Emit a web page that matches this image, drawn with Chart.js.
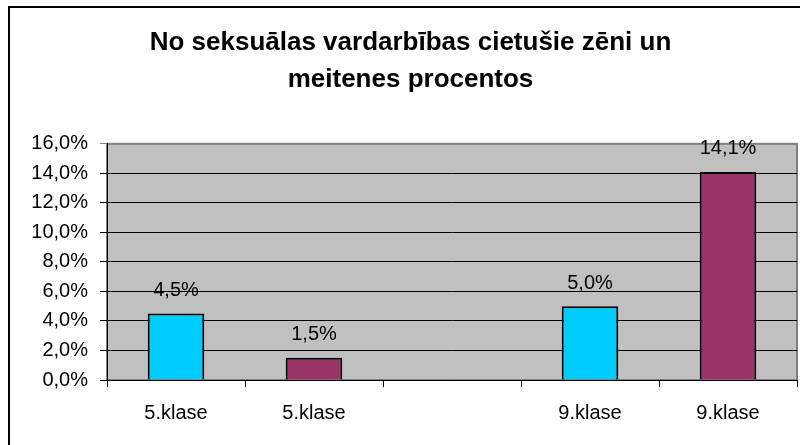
<!DOCTYPE html>
<html>
<head>
<meta charset="utf-8">
<script src="https://cdn.jsdelivr.net/npm/chart.js@4"></script>
<style>
  body { margin: 0; background: #fff; }
  canvas { display: block; }
</style>
</head>
<body>
<canvas id="chart" width="800" height="445"></canvas>
<script>
const titleLines = ["No seksuālas vardarbības cietušie zēni un", "meitenes procentos"];
const categories = ["5.klase", "5.klase", "", "9.klase", "9.klase"];
const values = [4.5, 1.5, null, 5.0, 14.1];
const barColors = ["#00CCFF", "#993366", "#00CCFF", "#00CCFF", "#993366"];
const yTicks = [0, 2, 4, 6, 8, 10, 12, 14, 16];

const FONT = "'Liberation Sans', Arial, sans-serif";
const fmt = v => v.toFixed(1).replace(".", ",") + "%";

// gray plot area, gray frame, and the black outer border
const backdrop = {
  id: "backdrop",
  beforeDraw(chart) {
    const { ctx, chartArea: a } = chart;
    ctx.save();
    ctx.fillStyle = "#fff";
    ctx.fillRect(0, 0, chart.width, chart.height);
    ctx.fillStyle = "#C0C0C0";
    ctx.fillRect(a.left, a.top, a.right - a.left, a.bottom - a.top);
    ctx.strokeStyle = "#808080";
    ctx.lineWidth = 2;
    ctx.strokeRect(a.left, a.top, a.right - a.left, a.bottom - a.top);
    ctx.strokeStyle = "#000";
    ctx.lineWidth = 2;
    ctx.strokeRect(9, 7, chart.width + 20, chart.height + 20);
    ctx.restore();
  }
};

// value labels above the bars
const barLabels = {
  id: "barLabels",
  afterDatasetsDraw(chart) {
    const { ctx } = chart;
    const meta = chart.getDatasetMeta(0);
    ctx.save();
    ctx.font = "20px " + FONT;
    ctx.fillStyle = "#000";
    ctx.textAlign = "center";
    ctx.textBaseline = "middle";
    meta.data.forEach((bar, i) => {
      if (values[i] == null) return;
      ctx.fillText(fmt(values[i]), bar.x, bar.y - 23);
    });
    ctx.restore();
  }
};

new Chart(document.getElementById("chart"), {
  type: "bar",
  data: {
    labels: categories,
    datasets: [{
      data: values,
      backgroundColor: barColors,
      borderColor: "#000",
      borderWidth: 2,
      barPercentage: 0.41,
      categoryPercentage: 1
    }]
  },
  options: {
    responsive: false,
    animation: false,
    layout: { padding: { left: 24, right: 3, top: 0, bottom: 0 } },
    plugins: {
      legend: { display: false },
      tooltip: { enabled: false },
      title: {
        display: true,
        text: titleLines,
        color: "#000",
        font: { family: FONT, size: 26, weight: "bold", lineHeight: 1.42 },
        padding: { top: 24, bottom: 46 }
      }
    },
    scales: {
      x: {
        afterFit(s) { s.height = 65; },
        grid: { drawOnChartArea: false, color: "#000", tickLength: 7, offset: true },
        border: { color: "#000", width: 1 },
        ticks: { color: "#000", font: { family: FONT, size: 20 }, padding: 14, maxRotation: 0 }
      },
      y: {
        min: 0,
        max: 16,
        afterFit(s) { s.width = 83; },
        afterBuildTicks(s) { s.ticks = yTicks.map(v => ({ value: v })); },
        grid: {
          color: c => (c.tick && c.tick.value === 16 ? "#808080" : "#000"),
          tickLength: 7
        },
        border: { color: "#000", width: 1 },
        ticks: { color: "#000", font: { family: FONT, size: 20 }, padding: 12, callback: v => fmt(v) }
      }
    }
  },
  plugins: [backdrop, barLabels]
});
</script>
</body>
</html>
